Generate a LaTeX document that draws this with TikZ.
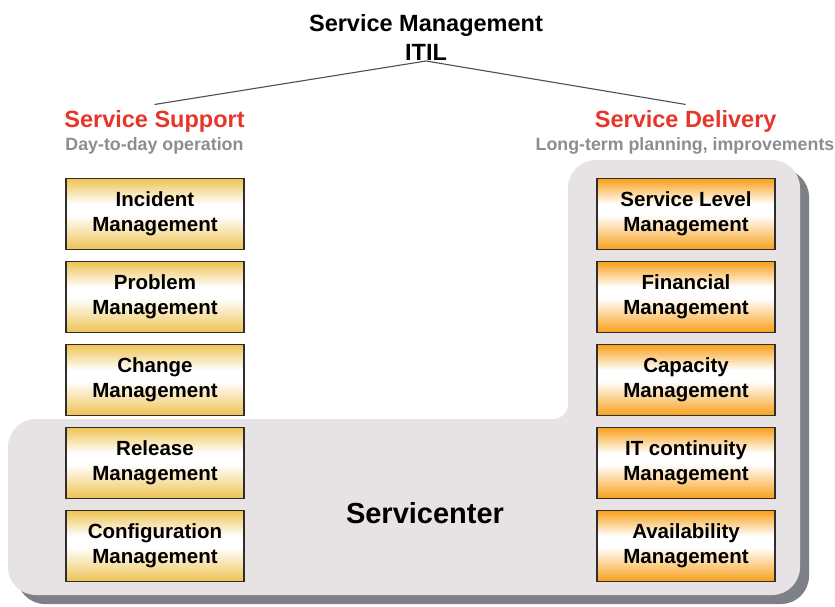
\documentclass[tikz,border=0pt]{standalone}
\usepackage{fontspec}
\setmainfont{Liberation Sans}

\definecolor{itilred}{HTML}{E8352B}
\definecolor{subgray}{HTML}{8B8E90}
\definecolor{panel}{HTML}{E7E2E3}
\definecolor{panelshadow}{HTML}{7D8084}
\definecolor{gold}{HTML}{EEC352}
\definecolor{amber}{HTML}{F8A01A}
\definecolor{boxline}{HTML}{2E2E2E}
\definecolor{tieline}{HTML}{4E4E4E}

% colour band: strong at both edges, white just above the middle
\pgfdeclareverticalshading{goldband}{100bp}{color(0bp)=(gold); color(25bp)=(gold);
  color(49bp)=(white); color(57bp)=(white); color(75bp)=(gold); color(100bp)=(gold)}
\pgfdeclareverticalshading{amberband}{100bp}{color(0bp)=(amber); color(25bp)=(amber);
  color(49bp)=(white); color(57bp)=(white); color(75bp)=(amber); color(100bp)=(amber)}

\tikzset{
  procbox/.style={draw=boxline, line width=1.1pt, minimum width=178pt,
    minimum height=71pt, inner sep=0pt, align=center,
    font=\fontsize{20.5}{25}\selectfont\bfseries},
  supportbox/.style={procbox, shading=goldband},
  deliverybox/.style={procbox, shading=amberband},
  headline/.style={font=\fontsize{23.5}{29}\selectfont\bfseries, inner sep=0pt},
  redhead/.style={headline, text=itilred, anchor=base, outer ysep=5.5pt},
  subline/.style={font=\fontsize{17.8}{21}\selectfont\bfseries, text=subgray,
    inner sep=0pt, anchor=base},
  tie/.style={draw=tieline, line width=1.1pt},
}

\begin{document}
\begin{tikzpicture}[x=1pt, y=-1pt]
\useasboundingbox (0,0) rectangle (835,606);

% service-center panel outline: L-shaped, rounded outer corners,
% rounded inner corner
\newcommand{\servicepanel}[1]{%
  \fill[#1]
    (8,447) .. controls (8,431.5) and (20.5,419) .. (36,419)
    -- (553,419) .. controls (561.3,419) and (568,412.3) .. (568,404)
    -- (568,188) .. controls (568,172.5) and (580.5,160) .. (596,160)
    -- (772,160) .. controls (787.5,160) and (800,172.5) .. (800,188)
    -- (800,567) .. controls (800,582.5) and (787.5,595) .. (772,595)
    -- (36,595) .. controls (20.5,595) and (8,582.5) .. (8,567)
    -- cycle;}

\begin{scope}[shift={(9,9)}]
  \servicepanel{panelshadow}
\end{scope}
\servicepanel{panel}

% headings
\node[headline, align=center, anchor=south] (title) at (426,61)
  {Service Management\\ITIL};
\node[redhead] (ss) at (154.5,127) {Service Support};
\node[redhead] (sd) at (685.7,127) {Service Delivery};
\node[subline] (ssub) at (154.5,150) {Day-to-day operation};
\node[subline] (dsub) at (685,150) {Long-term planning, improvements};

\draw[tie] (ss.north) -- (title.south) -- (sd.north);

% service support processes
\node[supportbox] (inc) at (155,214) {Incident\\Management};
\node[supportbox] (prob) at (155,297) {Problem\\Management};
\node[supportbox] (chg) at (155,380) {Change\\Management};
\node[supportbox] (rel) at (155,463) {Release\\Management};
\node[supportbox] (conf) at (155,546) {Configuration\\Management};

% service delivery processes
\node[deliverybox] (slm) at (686,214) {Service Level\\Management};
\node[deliverybox] (fin) at (686,297) {Financial\\Management};
\node[deliverybox] (cap) at (686,380) {Capacity\\Management};
\node[deliverybox] (itc) at (686,463) {IT continuity\\Management};
\node[deliverybox] (avail) at (686,546) {Availability\\Management};

\node[font=\fontsize{29}{34}\selectfont\bfseries, inner sep=0pt, anchor=base]
  (sc) at (425,523.5) {Servicenter};
\end{tikzpicture}
\end{document}
